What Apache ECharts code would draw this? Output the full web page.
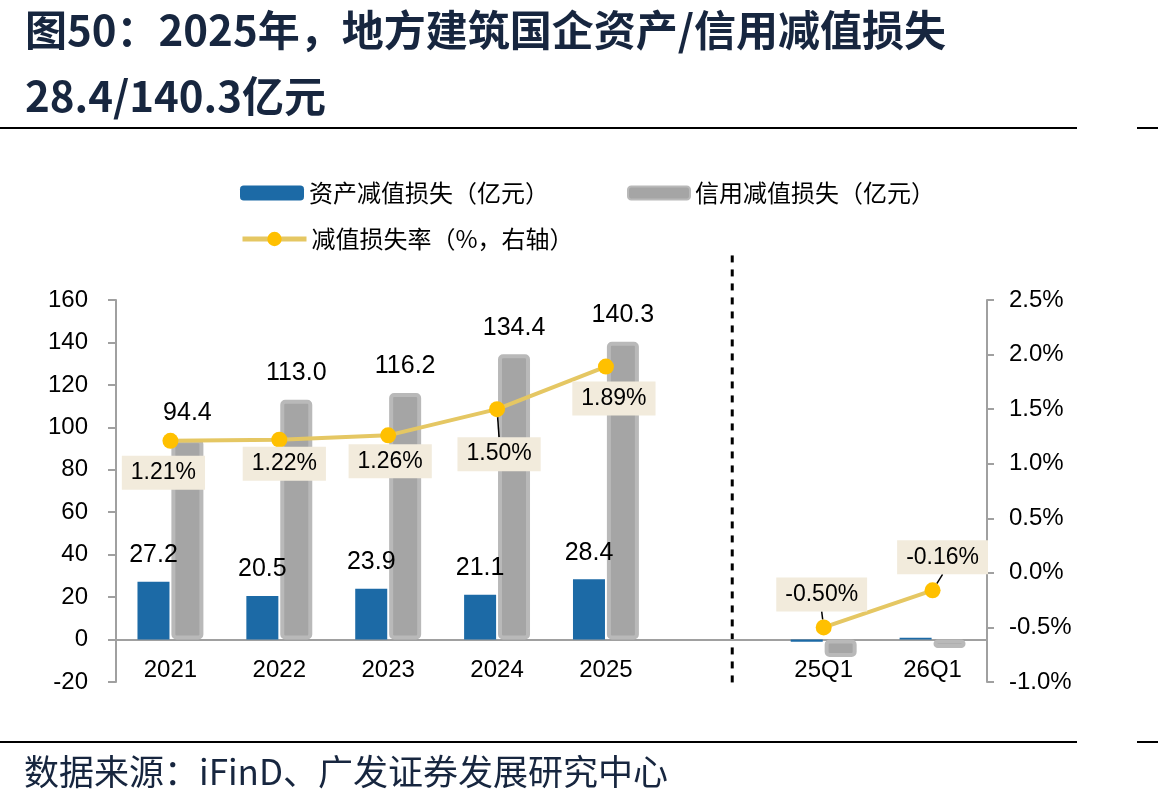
<!DOCTYPE html>
<html>
<head>
<meta charset="utf-8">
<script src="https://cdn.jsdelivr.net/npm/echarts@6/dist/echarts.min.js"></script>
<style>
  html, body { margin: 0; padding: 0; background: #fff; }
  #chart { width: 1158px; height: 812px; }
</style>
</head>
<body>
<div id="chart"></div>
<script>
// 分类与数据
var categories = ['2021', '2022', '2023', '2024', '2025', '', '25Q1', '26Q1'];
var assetLoss = [27.2, 20.5, 23.9, 21.1, 28.4, null, -1.0, 0.8];      // 资产减值损失（亿元）
var creditLoss = [94.4, 113.0, 116.2, 134.4, 140.3, null, -8.2, -4.0]; // 信用减值损失（亿元）
var lossRate = [1.21, 1.22, 1.26, 1.50, 1.89, null, -0.50, -0.16];    // 减值损失率（%）
var leftTicks = { min: -20, max: 160, interval: 20 };
var rightTicks = { min: -1.0, max: 2.5, interval: 0.5 };

// 折线标签的偏移（样式）
var rateLabelShift = [[-7, 32], [5, 24], [2, 26], [2, 45], [8, 32], [0, 0], [-2, -33], [10, -33]];
var rateLabelLine = [false, false, false, true, false, false, true, true];
// 年度与季度之间的虚线分隔（隐藏数值轴上的位置）
var separatorPos = 5.66;
var separatorSpan = [181, -22.5];

var fontLatin = "'Liberation Sans', 'Noto Sans CJK SC', sans-serif";
var fontCjk = "'Noto Sans CJK SC', 'Liberation Sans', sans-serif";

var chart = echarts.init(document.getElementById('chart'));

var barLabel = function (show) {
    return {
        show: show,
        position: 'top',
        distance: 14,
        fontSize: 25,
        color: '#000',
        fontFamily: fontLatin,
        formatter: function (p) { return p.value.toFixed(1); }
    };
};

var assetData = assetLoss.map(function (v, i) {
    return { value: v, label: barLabel(i < 5) };
});
var creditData = creditLoss.map(function (v, i) {
    return { value: v, label: barLabel(i < 5) };
});
var rateData = lossRate.map(function (v, i) {
    return { value: v, labelLine: { show: rateLabelLine[i] } };
});

var rules = [
    { type: 'line', shape: { x1: 0, y1: 128, x2: 1077, y2: 128 }, style: { stroke: '#000', lineWidth: 2 } },
    { type: 'line', shape: { x1: 1137, y1: 128, x2: 1158, y2: 128 }, style: { stroke: '#000', lineWidth: 2 } },
    { type: 'line', shape: { x1: 0, y1: 742, x2: 1077, y2: 742 }, style: { stroke: '#000', lineWidth: 2 } },
    { type: 'line', shape: { x1: 1137, y1: 742, x2: 1158, y2: 742 }, style: { stroke: '#000', lineWidth: 2 } },
    {
        type: 'text', left: 24, top: 754,
        style: { text: '数据来源：iFinD、广发证券发展研究中心', fontSize: 35, fill: '#17263f', fontFamily: fontCjk }
    }
];

chart.setOption({
    animation: false,
    title: {
        text: '图50：2025年，地方建筑国企资产/信用减值损失\n28.4/140.3亿元',
        left: 20,
        top: -8,
        textStyle: {
            fontSize: 42,
            fontWeight: 'bold',
            lineHeight: 66,
            color: '#17263f',
            fontFamily: fontCjk
        }
    },
    graphic: rules,
    legend: [
        {
            data: ['资产减值损失（亿元）'], left: 235, top: 176,
            itemWidth: 64, itemHeight: 15,
            textStyle: { fontSize: 24, color: '#000', fontFamily: fontCjk }
        },
        {
            data: ['信用减值损失（亿元）'], left: 622, top: 176,
            itemWidth: 62, itemHeight: 13,
            textStyle: { fontSize: 24, color: '#000', fontFamily: fontCjk }
        },
        {
            data: ['减值损失率（%，右轴）'], left: 235, top: 222,
            itemWidth: 64, itemHeight: 18,
            lineStyle: { width: 5 },
            textStyle: { fontSize: 24, color: '#000', fontFamily: fontCjk }
        }
    ],
    grid: { left: 116, right: 171, top: 300, bottom: 130 },
    xAxis: [
        {
            type: 'category',
            data: categories,
            axisLine: { onZero: true, lineStyle: { color: '#a0a0a0', width: 2 } },
            axisTick: { show: false },
            axisLabel: { fontSize: 24, color: '#000', margin: -24, fontFamily: fontLatin }
        },
        { type: 'value', min: 0, max: categories.length, show: false }
    ],
    yAxis: [
        {
            type: 'value',
            min: leftTicks.min, max: leftTicks.max, interval: leftTicks.interval,
            axisLine: { show: true, lineStyle: { color: '#a0a0a0', width: 2 } },
            axisTick: { show: true, length: 8, lineStyle: { color: '#a0a0a0', width: 2 } },
            splitLine: { show: false },
            axisLabel: { fontSize: 24, color: '#000', margin: 28, fontFamily: fontLatin }
        },
        {
            type: 'value',
            position: 'right',
            min: rightTicks.min, max: rightTicks.max, interval: rightTicks.interval,
            axisLine: { show: true, lineStyle: { color: '#a0a0a0', width: 2 } },
            axisTick: { show: true, length: 7, lineStyle: { color: '#a0a0a0', width: 2 } },
            splitLine: { show: false },
            axisLabel: {
                fontSize: 24, color: '#000', margin: 22, fontFamily: fontLatin,
                formatter: function (v) { return v.toFixed(1) + '%'; }
            }
        }
    ],
    series: [
        {
            name: '资产减值损失（亿元）',
            type: 'bar',
            barWidth: 32,
            barGap: '6%',
            itemStyle: { color: '#1c6aa6' },
            data: assetData
        },
        {
            name: '信用减值损失（亿元）',
            type: 'bar',
            barWidth: 32,
            itemStyle: { color: '#a5a5a5', borderColor: '#b9b9b9', borderWidth: 4, borderRadius: 3 },
            data: creditData
        },
        {
            name: '减值损失率（%，右轴）',
            type: 'line',
            yAxisIndex: 1,
            z: 5,
            symbol: 'circle',
            symbolSize: 16,
            connectNulls: false,
            lineStyle: { color: '#e5c763', width: 4 },
            itemStyle: { color: '#ffc000' },
            label: {
                show: true,
                position: 'inside',
                fontSize: 23,
                color: '#000',
                fontFamily: fontLatin,
                backgroundColor: '#f2ebdc',
                padding: [6, 9, 5, 9],
                formatter: function (p) { return p.value.toFixed(2) + '%'; }
            },
            labelLine: { show: false, lineStyle: { color: '#000', width: 1.5 } },
            labelLayout: function (params) {
                var s = rateLabelShift[params.dataIndex] || [0, 0];
                return { dx: s[0], dy: s[1] };
            },
            data: rateData
        }
    ]
});

// 虚线分隔：位置由坐标轴换算
var sepTop = chart.convertToPixel({ xAxisIndex: 1, yAxisIndex: 0 }, [separatorPos, separatorSpan[0]]);
var sepBottom = chart.convertToPixel({ xAxisIndex: 1, yAxisIndex: 0 }, [separatorPos, separatorSpan[1]]);
chart.setOption({
    graphic: rules.concat([{
        type: 'line',
        silent: true,
        shape: { x1: sepTop[0], y1: sepTop[1], x2: sepBottom[0], y2: sepBottom[1] },
        style: { stroke: '#000', lineWidth: 3, lineDash: [7, 7] }
    }])
});
</script>
</body>
</html>
